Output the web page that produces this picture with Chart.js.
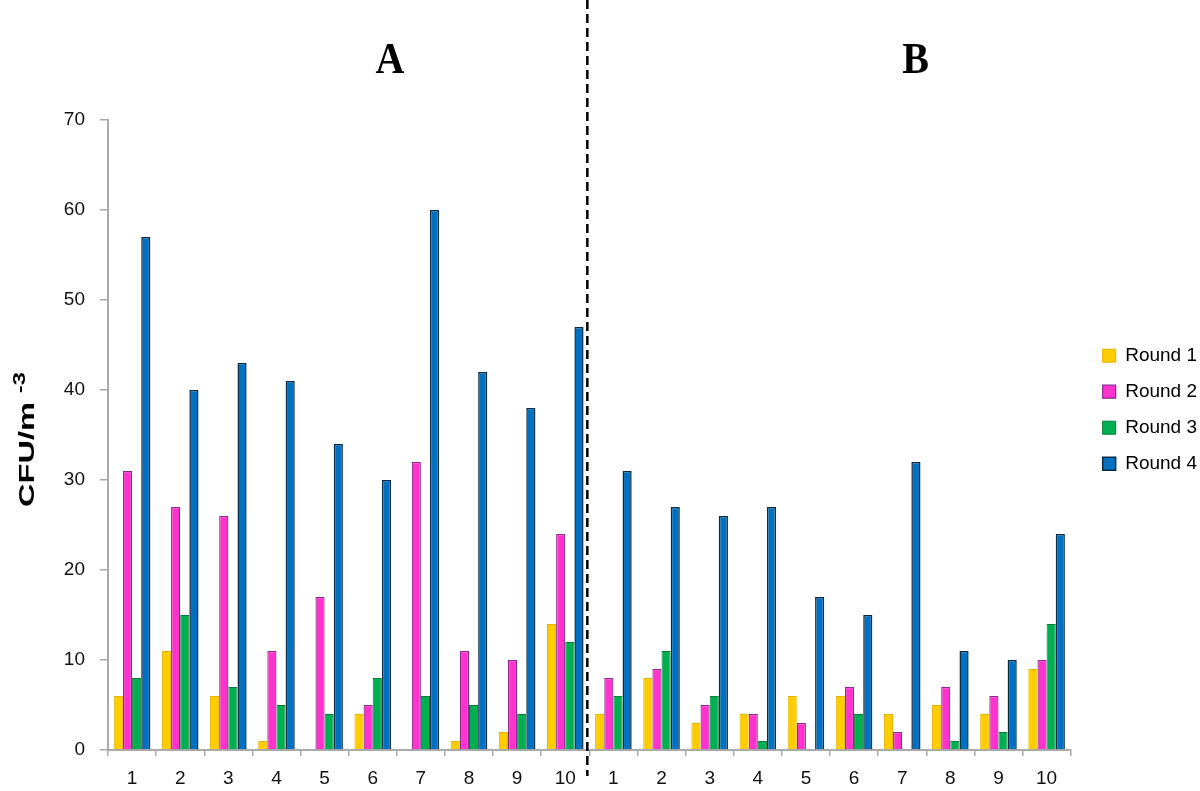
<!DOCTYPE html>
<html>
<head>
<meta charset="utf-8">
<script src="https://cdn.jsdelivr.net/npm/chart.js@4/dist/chart.umd.min.js"></script>
<style>
  html, body { margin: 0; padding: 0; background: #fff; }
  #wrap { width: 1200px; height: 791px; }
</style>
</head>
<body>
<div id="wrap"><canvas id="myChart" width="1200" height="791"></canvas></div>
<script>
// sites sampled in area A and area B
const sites = ['1', '2', '3', '4', '5', '6', '7', '8', '9', '10'];
const labels = sites.concat(sites);

// CFU/m-3 per sampling round (A 1..10 then B 1..10)
const round1 = [6, 11, 6, 1, 0, 4, 0, 1, 2, 14,   4, 8, 3, 4, 6, 6, 4, 5, 4, 9];
const round2 = [31, 27, 26, 11, 17, 5, 32, 11, 10, 24,   8, 9, 5, 4, 3, 7, 2, 7, 6, 10];
const round3 = [8, 15, 7, 5, 4, 8, 6, 5, 4, 12,   6, 11, 6, 1, 0, 4, 0, 1, 2, 14];
const round4 = [57, 40, 43, 41, 34, 30, 60, 42, 38, 47,   31, 27, 26, 27, 17, 15, 32, 11, 10, 24];

const yTicks = [0, 10, 20, 30, 40, 50, 60, 70];

const font = "'Liberation Sans', Arial, sans-serif";

// dashed separator + A/B headings + y title with superscript
const extras = {
    id: 'extras',
    afterDraw(chart) {
        const ctx = chart.ctx;
        const x = chart.scales.x;
        const sep = (x.getPixelForValue(9) + x.getPixelForValue(10)) / 2 - 2;
        ctx.save();
        ctx.strokeStyle = '#000';
        ctx.lineWidth = 2.5;
        ctx.setLineDash([9, 5]);
        ctx.beginPath();
        ctx.moveTo(sep, 0);
        ctx.lineTo(sep, 776);
        ctx.stroke();
        ctx.setLineDash([]);

        ctx.fillStyle = '#000';
        ctx.font = "bold 40px 'Liberation Serif', 'Times New Roman', serif";
        ctx.textAlign = 'center';
        ctx.textBaseline = 'alphabetic';
        ctx.save();
        ctx.translate(x.getPixelForValue(5.36), 73);
        ctx.scale(1, 1.1);
        ctx.fillText('A', 0, 0);
        ctx.restore();
        ctx.save();
        ctx.translate(x.getPixelForValue(16.28), 73);
        ctx.scale(1, 1.1);
        ctx.fillText('B', 0, 0);
        ctx.restore();

        // y axis title (stretched along its length like the original)
        ctx.translate(34, 507);
        ctx.rotate(-Math.PI / 2);
        ctx.scale(1.48, 1);
        ctx.textAlign = 'left';
        ctx.font = 'bold 22px ' + font;
        ctx.fillText('CFU/m', 0, 0);
        const w = ctx.measureText('CFU/m').width;
        ctx.font = 'bold 16px ' + font;
        ctx.fillText('-3', w + 6, -9);
        ctx.restore();
    }
};

const ctx = document.getElementById('myChart').getContext('2d');
const myChart = new Chart(ctx, {
    type: 'bar',
    data: {
        labels: labels,
        datasets: [{
            label: 'Round 1',
            data: round1,
            backgroundColor: '#FFCC00',
            borderColor: '#E0B400',
            borderWidth: 1
        }, {
            label: 'Round 2',
            data: round2,
            backgroundColor: '#FF33CC',
            borderColor: '#8A2A8F',
            borderWidth: 1.2
        }, {
            label: 'Round 3',
            data: round3,
            backgroundColor: '#00B050',
            borderColor: '#0A7A3A',
            borderWidth: 1
        }, {
            label: 'Round 4',
            data: round4,
            backgroundColor: '#0070C0',
            borderColor: '#0B2A4A',
            borderWidth: 1.5
        }]
    },
    options: {
        responsive: false,
        animation: false,
        layout: { padding: { top: 120, left: 0, right: -7, bottom: 0 } },
        datasets: {
            bar: { barPercentage: 1.0, categoryPercentage: 0.76, borderSkipped: 'start' }
        },
        scales: {
            x: {
                grid: { display: true, drawOnChartArea: false, drawTicks: true, tickLength: 6, color: '#aaa', lineWidth: 1.5 },
                border: { color: '#aaa', width: 2 },
                ticks: { color: '#111', font: { family: font, size: 19 }, padding: 11, maxRotation: 0, autoSkip: false },
                afterFit: function (s) { s.height = 41; }
            },
            y: {
                min: 0,
                max: 70,
                afterBuildTicks: function (s) { s.ticks = yTicks.map(v => ({ value: v })); },
                grid: { display: true, drawOnChartArea: false, drawTicks: true, tickLength: 8, color: '#aaa', lineWidth: 1.5 },
                border: { color: '#aaa', width: 2 },
                ticks: { color: '#111', font: { family: font, size: 19 }, padding: 15 },
                afterFit: function (s) { s.width = 108; }
            },
            yR: {
                position: 'right',
                display: true,
                grid: { display: false },
                border: { display: false },
                ticks: { display: false },
                afterFit: function (s) { s.width = 15; }
            }
        },
        plugins: {
            legend: {
                position: 'right',
                align: 'start',
                fullSize: false,
                title: { display: true, text: ' ', font: { size: 1 }, padding: { top: 0, bottom: 208 } },
                labels: {
                    color: '#000',
                    font: { family: font, size: 19 },
                    boxWidth: 13,
                    boxHeight: 13,
                    padding: 17
                }
            },
            tooltip: { enabled: false }
        }
    },
    plugins: [extras]
});
</script>
</body>
</html>
